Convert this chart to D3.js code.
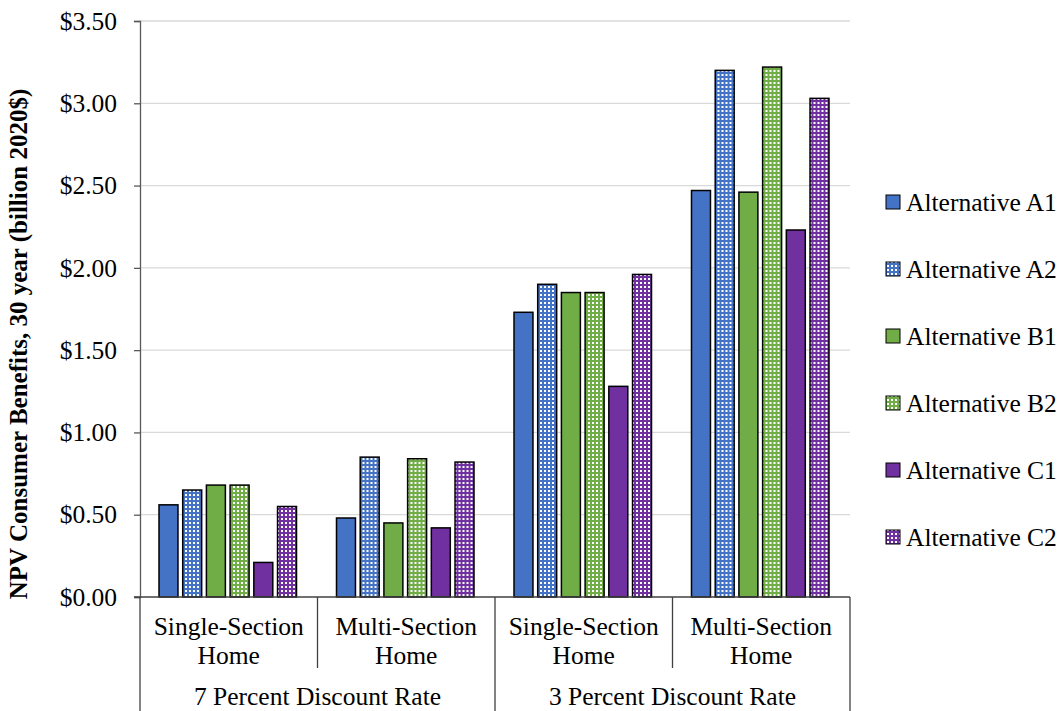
<!DOCTYPE html>
<html>
<head>
<meta charset="utf-8">
<script src="https://cdn.jsdelivr.net/npm/d3@7/dist/d3.min.js"></script>
<style>
  html, body { margin: 0; padding: 0; background: #fff; }
  svg text { font-family: "Liberation Serif", "Times New Roman", serif; fill: #000; }
</style>
</head>
<body>
<svg id="chart" width="1061" height="711"></svg>
<script>
// Consumer benefit NPV by home type and discount rate
const rates = ["7 Percent Discount Rate", "3 Percent Discount Rate"];
const homeTypes = [["Single-Section", "Home"], ["Multi-Section", "Home"]];
const seriesNames = ["Alternative A1", "Alternative A2", "Alternative B1", "Alternative B2", "Alternative C1", "Alternative C2"];
// values per group: [7% single, 7% multi, 3% single, 3% multi]
const altA1 = [0.56, 0.48, 1.73, 2.47];
const altA2 = [0.65, 0.85, 1.90, 3.20];
const altB1 = [0.68, 0.45, 1.85, 2.46];
const altB2 = [0.68, 0.84, 1.85, 3.22];
const altC1 = [0.21, 0.42, 1.28, 2.23];
const altC2 = [0.55, 0.82, 1.96, 3.03];
const yTicks = [0, 0.5, 1.0, 1.5, 2.0, 2.5, 3.0, 3.5];

const seriesValues = [altA1, altA2, altB1, altB2, altC1, altC2];
const baseColors = ["#4472C4", "#4472C4", "#70AD47", "#70AD47", "#7030A0", "#7030A0"];
const dotted = [false, true, false, true, false, true];

const FONT = "Liberation Serif, Times New Roman, serif";
const FS = 25.5;

const svg = d3.select("#chart");
const margin = { left: 140, right: 211, top: 21, bottom: 114 };
const W = 1061, H = 711;
const plotW = W - margin.left - margin.right;
const plotH = H - margin.top - margin.bottom;

// dotted fill patterns
const defs = svg.append("defs");
seriesNames.forEach((name, i) => {
  if (!dotted[i]) return;
  const p = defs.append("pattern")
    .attr("id", "pat" + i)
    .attr("patternUnits", "userSpaceOnUse")
    .attr("width", 4).attr("height", 4);
  p.append("rect").attr("width", 4).attr("height", 4).attr("fill", baseColors[i]);
  p.append("rect").attr("x", 1).attr("y", 1).attr("width", 2).attr("height", 2).attr("fill", "#fff");
});
const fillOf = i => dotted[i] ? `url(#pat${i})` : baseColors[i];

const groups = [];
rates.forEach((r, ri) => homeTypes.forEach((h, hi) => groups.push({ rate: r, home: h, idx: ri * 2 + hi })));

const g = svg.append("g").attr("transform", `translate(${margin.left},${margin.top})`);

const x0 = d3.scaleBand().domain(groups.map(d => d.idx)).range([0, plotW]).paddingInner(0).paddingOuter(0);
const x1 = d3.scaleBand().domain(seriesNames).range([19, x0.bandwidth() - 21]).paddingInner(0.2).paddingOuter(0);
const y = d3.scaleLinear().domain([0, 3.5]).range([plotH, 0]);

// gridlines
g.append("g").selectAll("line").data(yTicks.slice(1)).join("line")
  .attr("x1", 0).attr("x2", plotW)
  .attr("y1", d => y(d)).attr("y2", d => y(d))
  .attr("stroke", "#d9d9d9").attr("stroke-width", 1.3);

// y axis
const yAxis = d3.axisLeft(y).tickValues(yTicks).tickSize(6).tickPadding(17)
  .tickFormat(d => "$" + d3.format(".2f")(d));
const ya = g.append("g").call(yAxis).attr("font-family", FONT).attr("font-size", FS);
ya.select(".domain").attr("stroke", "#595959").attr("stroke-width", 1.3);
ya.selectAll(".tick line").attr("stroke", "#595959").attr("stroke-width", 1.3);
ya.selectAll(".tick text").attr("fill", "#000");

// bars
groups.forEach(gr => {
  const gg = g.append("g").attr("transform", `translate(${x0(gr.idx)},0)`);
  gg.selectAll("rect").data(seriesNames.map((n, i) => ({ n, i, v: seriesValues[i][gr.idx] }))).join("rect")
    .attr("x", d => x1(d.n))
    .attr("width", x1.bandwidth())
    .attr("y", d => y(d.v))
    .attr("height", d => y(0) - y(d.v))
    .attr("fill", d => fillOf(d.i))
    .attr("stroke", "#000").attr("stroke-width", 1.5);
});

// category axis line and separators
const axisCol = "#404040";
g.append("line").attr("x1", -6).attr("x2", plotW).attr("y1", plotH).attr("y2", plotH)
  .attr("stroke", axisCol).attr("stroke-width", 1.3);
const boundaries = d3.range(groups.length + 1);
boundaries.forEach(b => {
  const xb = b < groups.length ? x0(b) : plotW;
  const isRateEdge = b % 2 === 0;
  g.append("line").attr("x1", xb).attr("x2", xb)
    .attr("y1", plotH).attr("y2", isRateEdge ? H - margin.top : plotH + 71)
    .attr("stroke", axisCol).attr("stroke-width", 1.3);
});

// home type labels
groups.forEach(gr => {
  const cx = x0(gr.idx) + x0.bandwidth() / 2;
  const t = g.append("text").attr("text-anchor", "middle")
    .attr("font-family", FONT).attr("font-size", FS);
  t.append("tspan").attr("x", cx).attr("y", plotH + 38).text(gr.home[0]);
  t.append("tspan").attr("x", cx).attr("y", plotH + 67).text(gr.home[1]);
});

// discount rate labels
rates.forEach((r, ri) => {
  const cx = x0(ri * 2) + x0.bandwidth();
  g.append("text").attr("x", cx).attr("y", plotH + 108)
    .attr("text-anchor", "middle").attr("font-family", FONT).attr("font-size", FS).text(r);
});

// y axis title
svg.append("text")
  .attr("transform", `translate(27,344) rotate(-90)`)
  .attr("text-anchor", "middle").attr("font-family", FONT).attr("font-size", 25).attr("font-weight", "bold")
  .text("NPV Consumer Benefits, 30 year (billion 2020$)");

// legend
const legend = svg.append("g").attr("transform", "translate(886,201)");
seriesNames.forEach((n, i) => {
  const row = legend.append("g").attr("transform", `translate(0,${i * 67})`);
  row.append("rect").attr("x", 0).attr("y", -6).attr("width", 14).attr("height", 14)
    .attr("fill", fillOf(i)).attr("stroke", "#000").attr("stroke-width", 1);
  row.append("text").attr("x", 20).attr("y", 1).attr("dy", "0.35em")
    .attr("font-family", FONT).attr("font-size", FS).text(n);
});
</script>
</body>
</html>
